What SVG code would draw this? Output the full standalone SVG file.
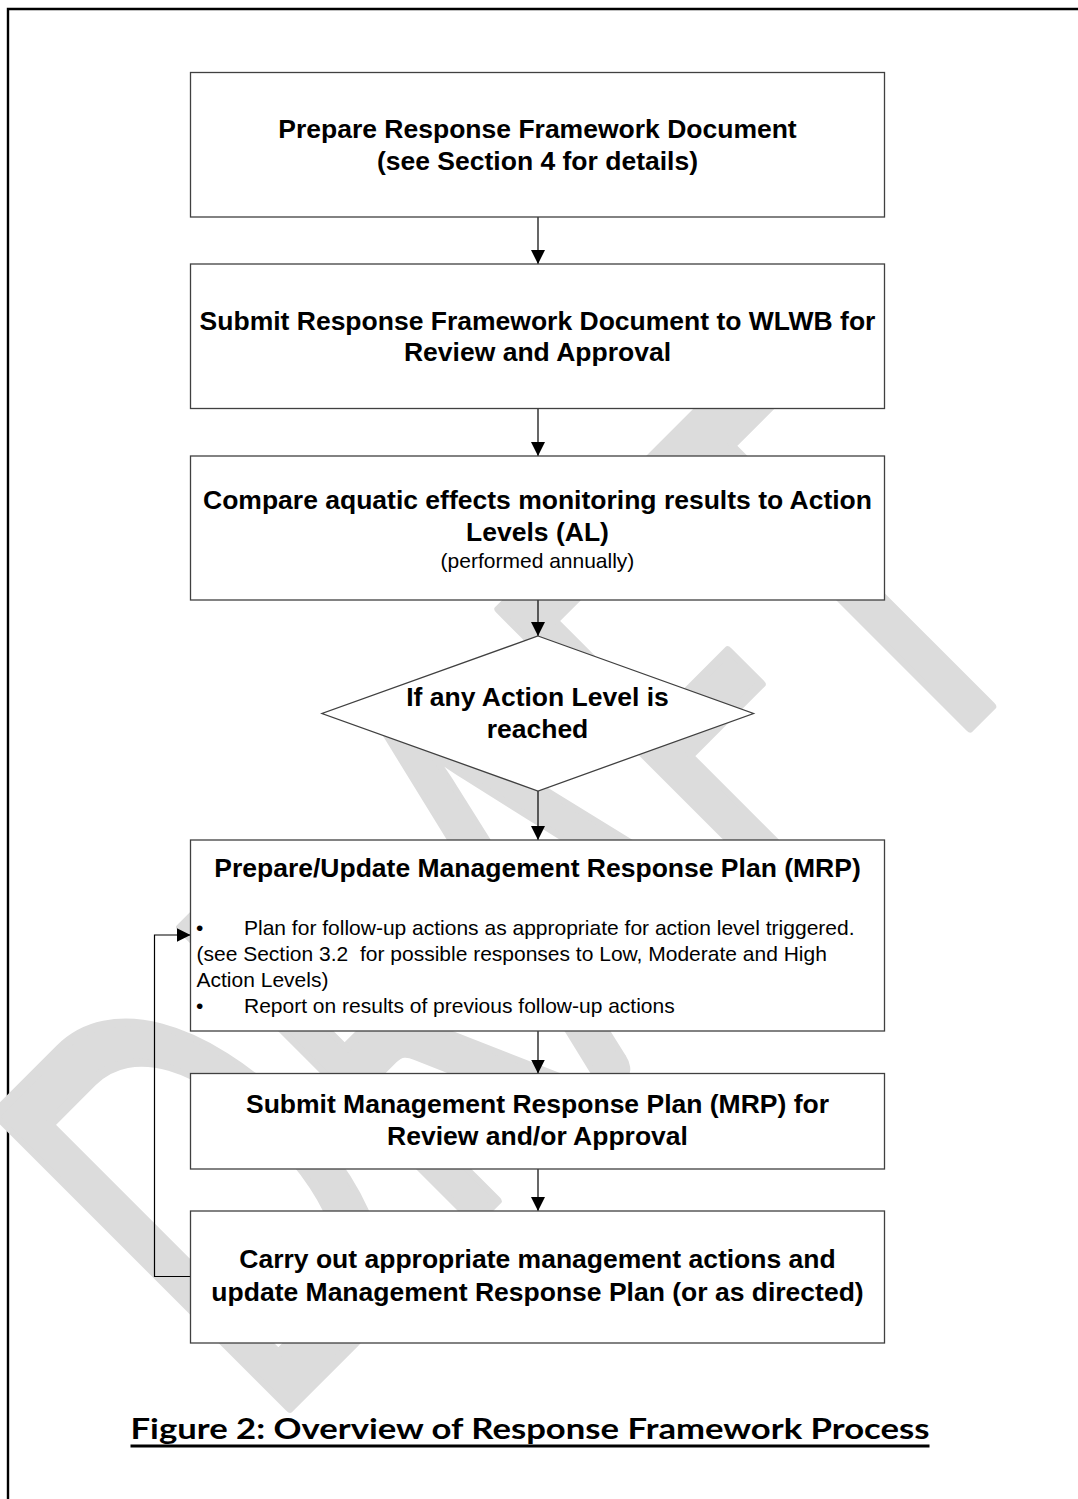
<svg xmlns="http://www.w3.org/2000/svg" width="1078" height="1499" viewBox="0 0 1078 1499">
<style>
.box{fill:#fff;stroke:#404040;stroke-width:1.3}
.b{font-family:"Liberation Sans",Arial,sans-serif;font-weight:bold;font-size:26.5px;fill:#000;text-anchor:middle}
.r{font-family:"Liberation Sans",Arial,sans-serif;font-size:21px;fill:#000}
.c{text-anchor:middle}
.conn{stroke:#000;stroke-width:1.2;fill:none}
.wm{font-family:Lato,"Open Sans",sans-serif;font-weight:normal;fill:#dcdcdc;stroke:#dcdcdc;stroke-width:10;stroke-linejoin:round}
</style>
<defs>
<marker id="ah" markerUnits="userSpaceOnUse" markerWidth="14" markerHeight="14" refX="14" refY="7" orient="auto">
<path d="M0,0 L14,7 L0,14 Z" fill="#000"/>
</marker>
</defs>
<rect x="0" y="0" width="1078" height="1499" fill="#fff"/>
<path d="M8,1499 V9 H1078" fill="none" stroke="#000" stroke-width="2.4"/>
<g id="watermark">
<text class="wm" x="0" y="0" font-size="580" textLength="1112" lengthAdjust="spacingAndGlyphs" transform="translate(266,1431) rotate(-45)">DRAFT</text>
</g>
<g id="connectors">
<line class="conn" x1="538" y1="217" x2="538" y2="264" marker-end="url(#ah)"/>
<line class="conn" x1="538" y1="408.5" x2="538" y2="456" marker-end="url(#ah)"/>
<line class="conn" x1="538" y1="600" x2="538" y2="636" marker-end="url(#ah)"/>
<line class="conn" x1="538" y1="791" x2="538" y2="840" marker-end="url(#ah)"/>
<line class="conn" x1="538" y1="1031" x2="538" y2="1073.5" marker-end="url(#ah)"/>
<line class="conn" x1="538" y1="1169" x2="538" y2="1211" marker-end="url(#ah)"/>
<polyline class="conn" points="190.5,1276.5 154.5,1276.5 154.5,935 190.5,935" marker-end="url(#ah)"/>
</g>
<g id="n1">
<rect class="box" x="190.5" y="72.5" width="694" height="144.5"/>
<text class="b" x="537.5" y="137.5">Prepare Response Framework Document</text>
<text class="b" x="537.5" y="169.5">(see Section 4 for details)</text>
</g>
<g id="n2">
<rect class="box" x="190.5" y="264" width="694" height="144.5"/>
<text class="b" x="537.5" y="329.5">Submit Response Framework Document to WLWB for</text>
<text class="b" x="537.5" y="361">Review and Approval</text>
</g>
<g id="n3">
<rect class="box" x="190.5" y="456" width="694" height="144"/>
<text class="b" x="537.5" y="509">Compare aquatic effects monitoring results to Action</text>
<text class="b" x="537.5" y="540.5">Levels (AL)</text>
<text class="r c" x="537.5" y="567.5">(performed annually)</text>
</g>
<g id="n4">
<polygon class="box" points="538,636 753.5,713.5 538,791 322,713.5"/>
<text class="b" x="537.5" y="706">If any Action Level is</text>
<text class="b" x="537.5" y="738">reached</text>
</g>
<g id="n5">
<rect class="box" x="190.5" y="840" width="694" height="191"/>
<text class="b" x="537.5" y="877">Prepare/Update Management Response Plan (MRP)</text>
<text class="r" x="196" y="935">•</text>
<text class="r" x="244" y="935">Plan for follow-up actions as appropriate for action level triggered.</text>
<text class="r" x="196.5" y="961" xml:space="preserve">(see Section 3.2  for possible responses to Low, Moderate and High</text>
<text class="r" x="196.5" y="987">Action Levels)</text>
<text class="r" x="196" y="1013">•</text>
<text class="r" x="244" y="1013">Report on results of previous follow-up actions</text>
</g>
<g id="n6">
<rect class="box" x="190.5" y="1073.5" width="694" height="95.5"/>
<text class="b" x="537.5" y="1113">Submit Management Response Plan (MRP) for</text>
<text class="b" x="537.5" y="1145">Review and/or Approval</text>
</g>
<g id="n7">
<rect class="box" x="190.5" y="1211" width="694" height="132"/>
<text class="b" x="537.5" y="1268">Carry out appropriate management actions and</text>
<text class="b" x="537.5" y="1300.5">update Management Response Plan (or as directed)</text>
</g>
<g id="title">
<text x="130.5" y="1439" font-family="Lato,'Open Sans',sans-serif" font-weight="bold" font-size="28.5" textLength="799" lengthAdjust="spacingAndGlyphs" fill="#000">Figure 2: Overview of Response Framework Process</text>
<rect x="130.5" y="1444.5" width="799" height="3" fill="#000"/>
</g>
</svg>
